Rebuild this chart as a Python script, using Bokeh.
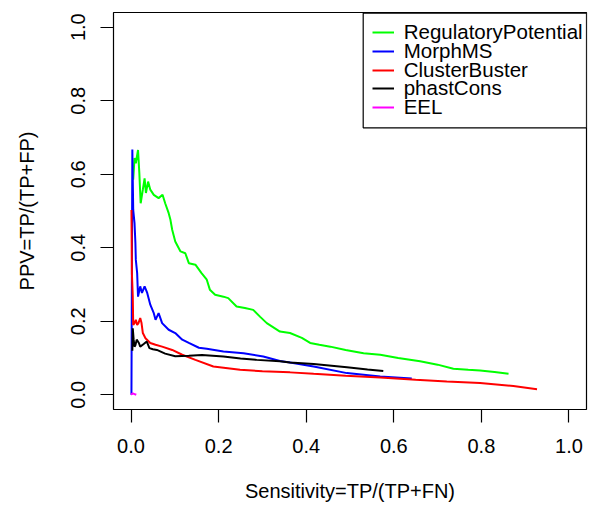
from bokeh.plotting import figure
from bokeh.models import (Range1d, FixedTicker, NumeralTickFormatter, Legend, LegendItem,
                          BoxAnnotation)
from bokeh.embed import file_html
from bokeh.resources import INLINE

# ---- data ----
rp_x = [0.005, 0.008, 0.011, 0.016, 0.019, 0.022, 0.027, 0.031, 0.034, 0.039, 0.044, 0.052,
        0.063, 0.072, 0.078, 0.086, 0.090, 0.094, 0.101, 0.113, 0.124, 0.132, 0.147, 0.161,
        0.173, 0.180, 0.192, 0.211, 0.222, 0.241, 0.260, 0.279, 0.295, 0.310, 0.340, 0.363,
        0.390, 0.409, 0.430, 0.455, 0.490, 0.531, 0.569, 0.610, 0.660, 0.700, 0.736, 0.770,
        0.797, 0.830, 0.862]
rp_y = [0.585, 0.644, 0.630, 0.666, 0.603, 0.521, 0.558, 0.589, 0.549, 0.580, 0.558, 0.544,
        0.535, 0.544, 0.521, 0.494, 0.476, 0.449, 0.417, 0.390, 0.385, 0.358, 0.354, 0.331,
        0.313, 0.286, 0.272, 0.267, 0.263, 0.240, 0.236, 0.231, 0.212, 0.195, 0.172, 0.168,
        0.155, 0.141, 0.136, 0.131, 0.122, 0.113, 0.109, 0.100, 0.091, 0.082, 0.071, 0.068,
        0.066, 0.062, 0.057]

mm_x = [0.001, 0.003, 0.005, 0.008, 0.010, 0.011, 0.014, 0.016, 0.021, 0.025, 0.031, 0.037,
        0.044, 0.052, 0.056, 0.063, 0.071, 0.086, 0.101, 0.117, 0.132, 0.155, 0.173, 0.211,
        0.257, 0.302, 0.340, 0.363, 0.417, 0.493, 0.569, 0.641]
mm_y = [0.0, 0.667, 0.503, 0.467, 0.413, 0.367, 0.331, 0.267, 0.295, 0.277, 0.295, 0.277,
        0.245, 0.222, 0.204, 0.222, 0.195, 0.177, 0.168, 0.150, 0.141, 0.128, 0.125, 0.118,
        0.113, 0.104, 0.092, 0.088, 0.077, 0.059, 0.050, 0.044]

cb_x = [0.001, 0.002, 0.004, 0.005, 0.008, 0.011, 0.014, 0.017, 0.021, 0.024, 0.027, 0.033,
        0.044, 0.056, 0.071, 0.094, 0.117, 0.147, 0.188, 0.249, 0.300, 0.363, 0.417, 0.490,
        0.569, 0.650, 0.721, 0.797, 0.873, 0.927]
cb_y = [0.503, 0.330, 0.267, 0.190, 0.195, 0.204, 0.190, 0.195, 0.209, 0.195, 0.168, 0.154,
        0.141, 0.136, 0.131, 0.122, 0.109, 0.095, 0.077, 0.068, 0.064, 0.061, 0.057, 0.052,
        0.047, 0.041, 0.036, 0.032, 0.024, 0.015]

pc_x = [0.003, 0.004, 0.006, 0.008, 0.010, 0.013, 0.018, 0.021, 0.029, 0.036, 0.042, 0.050,
        0.059, 0.078, 0.101, 0.132, 0.162, 0.211, 0.250, 0.287, 0.340, 0.363, 0.417, 0.493,
        0.540, 0.576]
pc_y = [0.120, 0.181, 0.150, 0.131, 0.135, 0.150, 0.141, 0.131, 0.138, 0.145, 0.127, 0.124,
        0.122, 0.112, 0.105, 0.106, 0.108, 0.104, 0.099, 0.095, 0.091, 0.088, 0.084, 0.075,
        0.069, 0.065]

eel_x = [0.0, 0.004, 0.008, 0.012]
eel_y = [0.0, 0.004, 0.002, 0.0]

series_names = ["RegulatoryPotential", "MorphMS", "ClusterBuster", "phastCons", "EEL"]
series_colors = ["#00ff00", "#0000ff", "#ff0000", "#000000", "#ff00ff"]
ticks = [0.0, 0.2, 0.4, 0.6, 0.8, 1.0]

FONT = "Liberation Sans"
FS = "20px"

# layout (canvas pixels)
W, H = 591, 509
BL, BR, BT, BB = 113, 5, 12, 100
FRAME_BOTTOM = H - BB
FRAME_H = H - BT - BB

p = figure(width=W, height=H, output_backend="svg", toolbar_location=None,
           x_range=Range1d(-0.04, 1.04), y_range=Range1d(-0.04, 1.04),
           min_border_left=BL, min_border_right=BR, min_border_top=BT, min_border_bottom=BB)
p.xgrid.visible = False
p.ygrid.visible = False
p.outline_line_color = "black"
p.outline_line_width = 1.2
p.background_fill_color = "white"
p.border_fill_color = "white"

for ax in (p.xaxis[0], p.yaxis[0]):
    ax.ticker = FixedTicker(ticks=ticks)
    ax.formatter = NumeralTickFormatter(format="0.0")
    ax.axis_line_color = None
    ax.major_tick_out = 13
    ax.major_tick_in = 0
    ax.minor_tick_line_color = None
    ax.major_tick_line_color = "black"
    ax.major_tick_line_width = 1.2
    ax.major_label_text_font = FONT
    ax.major_label_text_font_size = FS
    ax.major_label_text_color = "black"
    ax.axis_label_text_font = FONT
    ax.axis_label_text_font_size = FS
    ax.axis_label_text_font_style = "normal"
    ax.axis_label_text_color = "black"

p.xaxis[0].axis_label = "Sensitivity=TP/(TP+FN)"
p.xaxis[0].major_label_standoff = 16
p.xaxis[0].axis_label_standoff = 24
p.yaxis[0].axis_label = "PPV=TP/(TP+FP)"
p.yaxis[0].major_label_orientation = "vertical"
p.yaxis[0].major_label_standoff = 15
p.yaxis[0].axis_label_standoff = 31

xs = [rp_x, mm_x, cb_x, pc_x, eel_x]
ys = [rp_y, mm_y, cb_y, pc_y, eel_y]
renderers = []
for col, x, y in zip(series_colors, xs, ys):
    renderers.append(p.line(x, y, line_color=col, line_width=2))

# legend frame (screen units, relative to plot frame, origin bottom-left)
box = BoxAnnotation(left=249.7, right=473, top=FRAME_H - 0.7, bottom=FRAME_H - 115.3,
                    left_units="screen", right_units="screen",
                    top_units="screen", bottom_units="screen",
                    fill_color="white", fill_alpha=1.0,
                    line_color="black", line_width=1.2, line_alpha=1.0)
p.add_layout(box)

ENTRY_H = 24
FIRST_CENTER = 31.8   # canvas y of first entry
STEP = 18.85
for i, (name, r) in enumerate(zip(series_names, renderers)):
    cy = FIRST_CENTER + STEP * i
    leg = Legend(items=[LegendItem(label=name, renderers=[r])],
                 location=(258.7, FRAME_BOTTOM - (cy + ENTRY_H / 2)),
                 margin=0, padding=0, spacing=0,
                 glyph_width=22, glyph_height=ENTRY_H, label_height=ENTRY_H,
                 label_standoff=10, label_text_font=FONT, label_text_font_size="20.5px",
                 label_text_color="black", border_line_color=None,
                 background_fill_alpha=0.0)
    p.add_layout(leg)

open("out.html", "w").write(file_html(p, INLINE))
